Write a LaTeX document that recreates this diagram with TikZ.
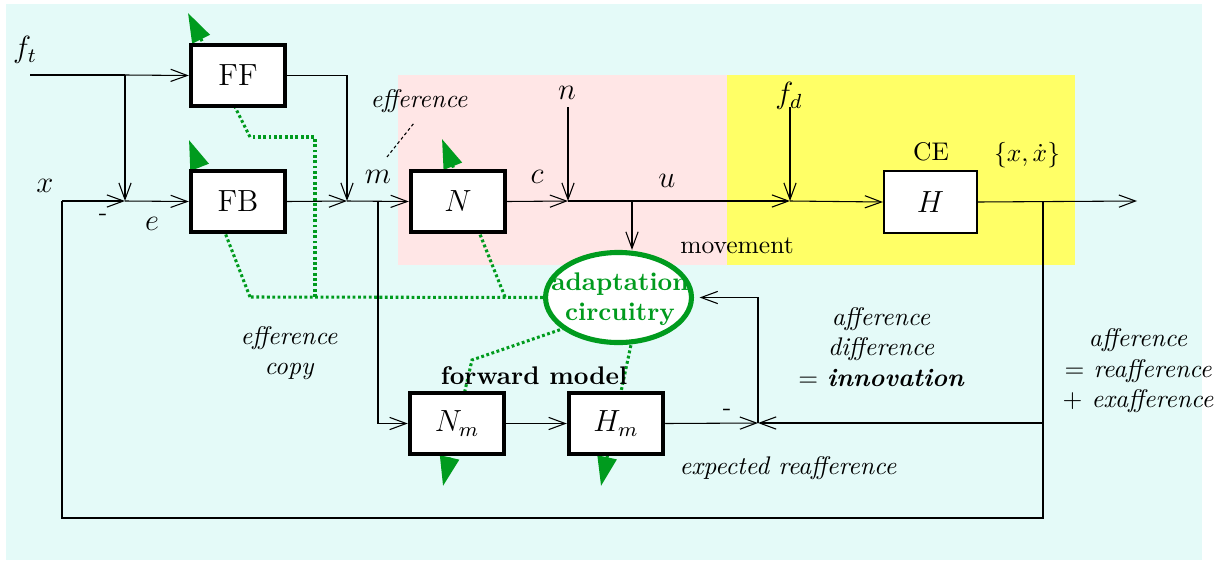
\documentclass[tikz,border=0pt]{standalone}
\usetikzlibrary{arrows.meta,shapes.geometric,backgrounds}
\definecolor{bgcyan}{RGB}{228,250,248}
\definecolor{pinkbg}{RGB}{255,230,230}
\definecolor{yellowbg}{RGB}{255,255,102}
\definecolor{adgreen}{RGB}{0,155,30}
\tikzset{
  blk/.style={draw, fill=white, line width=1.6pt, minimum width=37pt, minimum height=24pt, inner sep=0pt, font=\large},
  thinblk/.style={blk, line width=0.8pt, minimum width=36.5pt},
  wire/.style={line width=0.42pt},
  sig/.style={wire, -{Straight Barb[length=6.5pt,width=4.8pt]}},
  adapt/.style={adgreen, line width=1.2pt, dash pattern=on 1.1pt off 1pt},
  adtip/.style={adapt, -{Triangle[length=11.5pt,width=7.5pt]}},
  lbl/.style={font=\large, inner sep=0pt},
  txt/.style={inner sep=0pt}
}
\begin{document}
\begin{tikzpicture}[x=0.392pt,y=-0.392pt]
\useasboundingbox (0,0) rectangle (1226,562);
% named nodes
\node[blk] (FF) at (238,75.5) {FF};
\node[blk] (FB) at (238,201.5) {FB};
\node[blk] (N) at (458,201.5) {$N$};
\node[thinblk] (H) at (930.5,202) {$H$};
\node[blk] (Nm) at (457,423.5) {$N_m$};
\node[blk] (Hm) at (616,423.5) {$H_m$};
\node[ellipse, draw=adgreen, line width=2pt, fill=white, minimum width=57.2pt, minimum height=35.3pt, inner sep=0pt] (AC) at (618.5,297.5) {};
\node[font=\bfseries, text=adgreen, align=center, inner sep=0pt] (ACt) at (620,299) {adaptation\\circuitry};
% background layer
\begin{scope}[on background layer]
\fill[white] (0,0) rectangle (1226,562);
\fill[bgcyan] (6,4) rectangle (1202,560);
\fill[pinkbg] (398,75) rectangle (728,265);
\fill[yellowbg] (727,75) rectangle (1075,265);
\coordinate (gFB) at (250,297);
\coordinate (gFBtip) at (189,140);
\coordinate (gV) at (315,297);
\coordinate (gVt) at (315,137);
\coordinate (gFFc) at (250,137);
\coordinate (gFFtip) at (188,13);
\coordinate (gN) at (505,297);
\coordinate (gNtip) at (442,139);
\coordinate (gNm1) at (565,328);
\coordinate (gNmc) at (472,360);
\coordinate (gNmtip) at (443,486);
\coordinate (gHm0) at (632,340);
\coordinate (gHmtip) at (601,486);
\draw[adapt] (AC.west) -- (gFB);
\draw[adtip] (gFB) -- (gFBtip);
\draw[adapt] (gV) -- (gVt) -- (gFFc);
\draw[adtip] (gFFc) -- (gFFtip);
\draw[adtip] (gN) -- (gNtip);
\draw[adtip] (gNm1) -- (gNmc) -- (gNmtip);
\draw[adtip] (gHm0) -- (gHmtip);
\end{scope}
% coordinates of junctions
\coordinate (ftin) at (30,75);
\coordinate (j1) at (125,75);
\coordinate (s1) at (125,201);
\coordinate (fbl) at (62,201);
\coordinate (s2) at (347,201);
\coordinate (b2) at (378,201);
\coordinate (s3) at (568,201);
\coordinate (nin) at (568,107);
\coordinate (b3) at (632,201);
\coordinate (s4) at (790,201);
\coordinate (fdin) at (790,107);
\coordinate (b4) at (1043,201);
\coordinate (out) at (1137,201);
\coordinate (s5) at (758,423);
\coordinate (b5) at (1043,423);
\coordinate (br) at (1043,518);
\coordinate (bl) at (62,518);
% connectors
\draw[wire] (ftin) -- (j1);
\draw[sig] (j1) -- (FF.west);
\draw[sig] (j1) -- (s1);
\draw[sig] (fbl) -- (s1);
\draw[sig] (s1) -- (FB.west);
\draw[sig] (FF.east) -| (s2);
\draw[sig] (FB.east) -- (s2);
\draw[sig] (s2) -- (N.west);
\draw[sig] (b2) |- (Nm.west);
\draw[sig] (N.east) -- (s3);
\draw[sig] (nin) -- (s3);
\draw[sig] (s3) -- (s4);
\draw[sig] (b3) -- (b3 |- AC.north);
\draw[sig] (s4) -- (H.west);
\draw[sig] (fdin) -- (s4);
\draw[sig] (H.east) -- (out);
\draw[wire] (b4) -- (br) -- (bl) -- (fbl);
\draw[sig] (Nm.east) -- (Hm.west);
\draw[sig] (Hm.east) -- (s5);
\draw[sig] (b5) -- (s5);
\draw[sig] (s5) |- ([xshift=2.2pt]AC.east);
% labels
\node[lbl] (lft) at (25,50) {$f_t$};
\node[lbl] (lx) at (45,186) {$x$};
\node[txt] (lminus1) at (103,217) {-};
\node[lbl] (le) at (152,224) {$e$};
\node[lbl] (lm) at (378,177) {$m$};
\node[txt, font=\itshape] (leff) at (419,101) {efference};
\coordinate (effa) at (387,157);
\coordinate (effb) at (414,123);
\draw[wire, dash pattern=on 1.2pt off 1pt] (effa) -- (effb);
\node[lbl] (ln) at (567,93) {$n$};
\node[lbl] (lc) at (537,177) {$c$};
\node[lbl] (lu) at (667,181) {$u$};
\node[lbl] (lfd) at (789,96) {$f_d$};
\node[txt] (lCE) at (931,152) {CE};
\node[txt] (lxx) at (1027,155) {$\{x,\dot x\}$};
\node[txt] (lmov) at (737,246) {movement};
\node[txt, align=center, font=\itshape] (lec) at (289,353) {efference\\copy};
\node[txt, font=\bfseries] (lfm) at (534,376) {forward model};
\node[txt, align=center, font=\itshape] (lad) at (881,347) {afference\\difference\\$=$ \textbf{innovation}};
\node[txt, align=center, font=\itshape] (lar) at (1138,371) {afference\\$=$ reafference\\$+$ exafference};
\node[txt, font=\itshape] (ler) at (788,468) {expected reafference};
\node[txt] (lminus2) at (727,412) {-};
\end{tikzpicture}
\end{document}
